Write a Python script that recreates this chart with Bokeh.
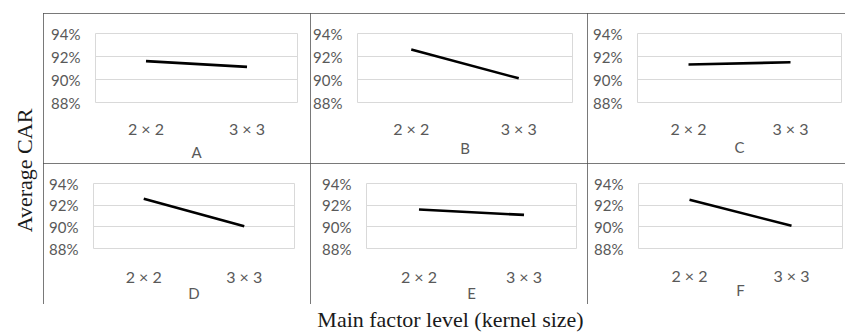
import math
from bokeh.plotting import figure
from bokeh.layouts import row, column
from bokeh.models import (FactorRange, Range1d, NumeralTickFormatter, FixedTicker,
                          Label, Spacer, ColumnDataSource)
from bokeh.embed import file_html
from bokeh.resources import INLINE

# ---------------- data ----------------
levels = ["2 × 2", "3 × 3"]
panel_names = ["A", "B", "C", "D", "E", "F"]
car_A = [0.916, 0.911]
car_B = [0.926, 0.901]
car_C = [0.913, 0.915]
car_D = [0.926, 0.9005]
car_E = [0.916, 0.911]
car_F = [0.925, 0.901]
y_ticks = [0.88, 0.90, 0.92, 0.94]
y_label = "Average CAR"
x_label = "Main factor level (kernel size)"

series = {"A": car_A, "B": car_B, "C": car_C, "D": car_D, "E": car_E, "F": car_F}

# cell geometry: width, height, min_border left/right/top/bottom, panel-letter standoff, tick-label standoff
geom = {
    "A": (267, 150, 52, 13, 20, 59, 2, 16),
    "B": (277, 150, 47, 15, 20, 56, -2, 16),
    "C": (259, 150, 50, 5, 19, 61, -3, 16),
    "D": (267, 141, 50, 16, 20, 52, -5, 18),
    "E": (277, 141, 56, 11, 19, 53, -5, 18),
    "F": (259, 141, 51, 4, 19, 56, -7, 17),
}

TICK_FONT = "Lato"
GRAY = "#595959"
BORDER = "#4d4d4d"


def make_cell(name):
    w, h, bl, br, bt, bb, lab_sd, tick_sd = geom[name]
    p = figure(width=w, height=h, x_range=FactorRange(*levels),
               y_range=Range1d(y_ticks[0], y_ticks[-1]),
               output_backend="svg", toolbar_location=None,
               min_border_left=bl, min_border_right=br,
               min_border_top=bt, min_border_bottom=bb)
    src = ColumnDataSource(dict(x=levels, y=series[name]))
    p.line("x", "y", source=src, line_color="black", line_width=2.6)

    p.outline_line_color = "#d9d9d9"
    p.outline_line_width = 1
    p.xgrid.visible = False
    p.ygrid.ticker = FixedTicker(ticks=y_ticks)
    p.ygrid.grid_line_color = "#d9d9d9"
    p.ygrid.grid_line_width = 1

    ya = p.yaxis[0]
    ya.ticker = FixedTicker(ticks=y_ticks)
    ya.formatter = NumeralTickFormatter(format="0%")
    ya.axis_line_color = None
    ya.major_tick_line_color = None
    ya.minor_tick_line_color = None
    ya.major_tick_out = 0
    ya.major_tick_in = 0
    ya.major_label_standoff = 15
    ya.major_label_text_font = TICK_FONT
    ya.major_label_text_font_size = "15px"
    ya.major_label_text_color = GRAY

    xa = p.xaxis[0]
    xa.axis_line_color = None
    xa.major_tick_line_color = None
    xa.minor_tick_line_color = None
    xa.major_tick_out = 0
    xa.major_tick_in = 0
    xa.major_label_standoff = tick_sd
    xa.major_label_text_font = TICK_FONT
    xa.major_label_text_font_size = "16px"
    xa.major_label_text_color = GRAY
    xa.axis_label = name
    xa.axis_label_standoff = lab_sd
    xa.axis_label_text_font = TICK_FONT
    xa.axis_label_text_font_size = "15px"
    xa.axis_label_text_font_style = "normal"
    xa.axis_label_text_color = GRAY

    styles = {"outline": f"1px solid {BORDER}", "outline-offset": "-1px"}
    if name in ("C", "F"):
        styles["clip-path"] = "inset(0px 1px 0px 0px)"
    p.styles = styles
    return p


cells = {n: make_cell(n) for n in panel_names}

# y label figure
ylab = figure(width=43, height=333, x_range=Range1d(0, 1), y_range=Range1d(0, 1),
              output_backend="svg", toolbar_location=None,
              x_axis_location=None, y_axis_location=None, min_border=0)
ylab.grid.visible = False
ylab.outline_line_color = None
ylab.add_layout(Label(x=24, y=333 - 170, x_units="screen", y_units="screen",
                      text=y_label, angle=math.pi / 2, text_align="center",
                      text_baseline="middle", text_font="Liberation Serif",
                      text_font_size="22px", text_color="#1a1a1a"))

# x label figure
xlab = figure(width=803, height=29, x_range=Range1d(0, 1), y_range=Range1d(0, 1),
              output_backend="svg", toolbar_location=None,
              x_axis_location=None, y_axis_location=None, min_border=0)
xlab.grid.visible = False
xlab.outline_line_color = None
xlab.add_layout(Label(x=450 - 43, y=14, x_units="screen", y_units="screen",
                      text=x_label, text_align="center",
                      text_baseline="middle", text_font="Liberation Serif",
                      text_font_size="22px", text_color="#1a1a1a"))

layout = row(
    ylab,
    column(Spacer(width=803, height=13),
           row(cells["A"], cells["B"], cells["C"]),
           row(cells["D"], cells["E"], cells["F"]),
           xlab),
)

open("out.html", "w").write(file_html(layout, INLINE))
